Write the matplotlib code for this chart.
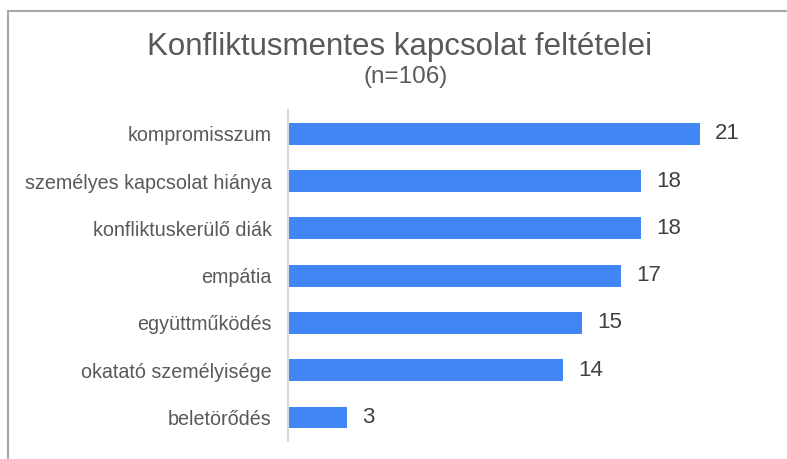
import matplotlib
matplotlib.use("Agg")
import matplotlib.pyplot as plt
from matplotlib.lines import Line2D

categories = ["kompromisszum", "személyes kapcsolat hiánya", "konfliktuskerülő diák",
              "empátia", "együttműködés", "okatató személyisége", "beletörődés"]
values = [21, 18, 18, 17, 15, 14, 3]
title = "Konfliktusmentes kapcsolat feltételei"
subtitle = "(n=106)"

plt.rcParams['font.family'] = ['Liberation Sans', 'DejaVu Sans']

txt = "#595959"
blue = "#4285F4"

fig = plt.figure(figsize=(7.87, 4.59), dpi=100)
ax = fig.add_axes([0.366, 0.039, 0.598, 0.721])

y = list(range(len(categories)))
ax.barh(y, values, height=0.46, color=blue)
ax.set_ylim(len(categories) - 0.5, -0.5)
ax.set_xlim(0, 24)
ax.set_yticks(y)
ax.set_yticklabels(categories, fontsize=14.2, color=txt)
ax.tick_params(axis='y', length=0, pad=12)
ax.set_xticks([])
for s in ["top", "right", "bottom"]:
    ax.spines[s].set_visible(False)
ax.spines["left"].set_color("#d9d9d9")
ax.spines["left"].set_linewidth(1.5)

for yi, v in zip(y, values):
    ax.annotate(str(v), (v, yi), xytext=(11, 0), textcoords="offset points",
                ha="left", va="center", fontsize=16, color="#404040")

fig.text(400/787, 0.897, title, ha="center", va="center", fontsize=22.5, color=txt)
fig.text(406/787, 0.833, subtitle, ha="center", va="center", fontsize=17.5, color=txt)

fig.add_artist(Line2D([8/787, 1], [1 - 10.5/459, 1 - 10.5/459], transform=fig.transFigure,
                      color="#a6a6a6", lw=1.5))
fig.add_artist(Line2D([8/787, 8/787], [0, 1 - 10.5/459], transform=fig.transFigure,
                      color="#a6a6a6", lw=1.5))

fig.savefig("out.png", dpi=100)
